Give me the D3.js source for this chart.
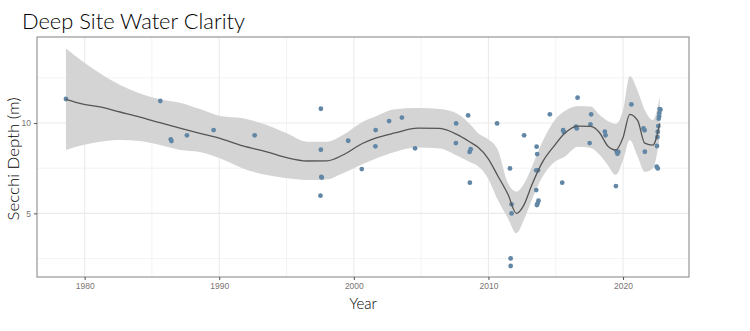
<!DOCTYPE html>
<html>
<head>
<meta charset="utf-8">
<script src="https://cdn.jsdelivr.net/npm/d3@7"></script>
<style>
  html, body { margin: 0; padding: 0; background: #ffffff; }
  svg { display: block; }
</style>
</head>
<body>
<div id="chart"></div>
<script>
// ---- Data ----
const obsYear = [
  1978.61, 1985.62, 1986.40, 1986.45, 1987.60, 1989.58, 1992.63,
  1997.55, 1997.55, 1997.58, 1997.62, 1997.52, 1999.58, 2000.59,
  2001.62, 2001.60, 2002.62, 2003.57, 2004.55, 2007.60, 2007.58,
  2008.49, 2008.60, 2008.68, 2008.62, 2010.64, 2011.60, 2011.72,
  2011.72, 2011.65, 2011.65, 2012.65, 2013.58, 2013.62, 2013.55,
  2013.68, 2013.55, 2013.72, 2013.65, 2013.60, 2014.56, 2015.48,
  2015.55, 2015.60, 2016.50, 2016.56, 2016.62, 2017.63, 2017.58,
  2017.52, 2018.65, 2018.70, 2019.52, 2019.58, 2019.65, 2019.47,
  2020.62, 2021.52, 2021.60, 2021.62, 2022.72, 2022.78, 2022.70,
  2022.68, 2022.65, 2022.62, 2022.58, 2022.55, 2022.52, 2022.50,
  2022.58
];
const obsSecchi = [
  11.33, 11.22, 9.10, 9.00, 9.32, 9.61, 9.32,
  10.79, 8.52, 7.02, 6.98, 5.98, 9.02, 7.45,
  9.61, 8.71, 10.11, 10.30, 8.60, 9.98, 8.89,
  10.42, 8.40, 8.55, 6.70, 9.98, 7.49, 5.50,
  5.00, 2.51, 2.09, 9.32, 8.69, 8.28, 7.38,
  7.38, 6.29, 5.70, 5.55, 5.46, 10.48, 6.70,
  9.60, 9.50, 9.80, 9.70, 11.40, 10.48, 9.93,
  8.89, 9.52, 9.32, 8.43, 8.30, 8.40, 6.51,
  11.03, 9.70, 9.60, 8.41, 10.77, 10.74, 10.55,
  10.37, 10.24, 9.83, 9.52, 9.22, 8.73, 7.58,
  7.49
];

// smoothed trend and its confidence band
const smoothYear = [
  1978.61, 1979.88, 1981.14, 1982.63, 1984.11, 1985.59, 1987.08, 1988.56,
  1990.05, 1991.76, 1993.54, 1995.02, 1996.51, 1998.00, 1999.19, 2000.67,
  2001.56, 2003.04, 2004.75, 2006.39, 2007.72, 2008.62, 2009.21, 2009.95,
  2010.70, 2011.44, 2012.08, 2012.63, 2013.22, 2013.96, 2014.93, 2015.67,
  2016.64, 2017.60, 2018.27, 2018.86, 2019.46, 2020.00, 2020.50, 2021.09,
  2021.61, 2022.21, 2022.73
];
const smoothFit = [
  11.31, 11.05, 10.89, 10.61, 10.33, 10.02, 9.72, 9.43,
  9.15, 8.73, 8.41, 8.08, 7.90, 7.91, 8.23, 8.88,
  9.15, 9.45, 9.72, 9.70, 9.34, 8.95, 8.67, 8.06,
  7.07, 6.07, 5.00, 5.46, 6.57, 7.77, 8.78, 9.43,
  9.83, 9.81, 9.45, 8.73, 8.51, 9.20, 10.48, 10.13,
  8.89, 8.78, 9.98
];
const smoothLo = [
  8.51, 8.78, 8.97, 9.06, 9.00, 8.78, 8.51, 8.40,
  8.05, 7.49, 7.12, 6.94, 6.85, 6.88, 7.22, 7.73,
  8.01, 8.40, 8.64, 8.59, 8.17, 7.84, 7.62, 6.96,
  5.74, 4.74, 3.90, 4.63, 5.74, 6.96, 7.86, 8.14,
  8.69, 8.62, 8.23, 7.68, 7.12, 7.95, 9.06, 8.14,
  7.30, 7.49, 9.24
];
const smoothHi = [
  14.13, 13.39, 12.75, 12.10, 11.64, 11.31, 11.12, 10.77,
  10.39, 10.26, 9.89, 9.43, 8.97, 8.97, 9.34, 10.07,
  10.35, 10.76, 10.83, 10.77, 10.50, 9.94, 9.45, 9.11,
  8.51, 6.68, 6.20, 6.62, 7.57, 8.89, 10.17, 10.66,
  10.94, 10.91, 10.44, 10.11, 9.94, 10.72, 12.60, 11.77,
  10.72, 10.17, 11.46
];

const xMajorTicks = [1980, 1990, 2000, 2010, 2020];
const xMinorTicks = [1985, 1995, 2005, 2015];
const yMajorTicks = [5, 10];
const yMinorTicks = [2.5, 7.5, 12.5];

const titleText = "Deep Site Water Clarity";
const xTitle = "Year";
const yTitle = "Secchi Depth (m)";

// ---- Layout ----
const W = 750, H = 331;
const panel = { left: 37, right: 689, top: 37, bottom: 277 };

const svg = d3.select("#chart").append("svg")
  .attr("width", W).attr("height", H);

svg.append("rect").attr("width", W).attr("height", H).attr("fill", "#ffffff");

const x = d3.scaleLinear().domain([1976.46, 2024.90]).range([panel.left, panel.right]);
const y = d3.scaleLinear().domain([1.48, 14.76]).range([panel.bottom, panel.top]);

// grid
const grid = svg.append("g");
grid.selectAll("line.xmin").data(xMinorTicks).join("line")
  .attr("x1", d => x(d)).attr("x2", d => x(d))
  .attr("y1", panel.top).attr("y2", panel.bottom)
  .attr("stroke", "#f0f0f0").attr("stroke-width", 0.8);
grid.selectAll("line.ymin").data(yMinorTicks).join("line")
  .attr("y1", d => y(d)).attr("y2", d => y(d))
  .attr("x1", panel.left).attr("x2", panel.right)
  .attr("stroke", "#f0f0f0").attr("stroke-width", 0.8);
grid.selectAll("line.xmaj").data(xMajorTicks).join("line")
  .attr("x1", d => x(d)).attr("x2", d => x(d))
  .attr("y1", panel.top).attr("y2", panel.bottom)
  .attr("stroke", "#ebebeb").attr("stroke-width", 1.1);
grid.selectAll("line.ymaj").data(yMajorTicks).join("line")
  .attr("y1", d => y(d)).attr("y2", d => y(d))
  .attr("x1", panel.left).attr("x2", panel.right)
  .attr("stroke", "#ebebeb").attr("stroke-width", 1.1);

// ribbon
const band = smoothYear.map((yr, i) => ({ yr, lo: smoothLo[i], hi: smoothHi[i], fit: smoothFit[i] }));
svg.append("path").datum(band)
  .attr("fill", "#d4d4d4")
  .attr("d", d3.area().x(d => x(d.yr)).y0(d => y(d.lo)).y1(d => y(d.hi)).curve(d3.curveMonotoneX));

// points
const pts = obsYear.map((yr, i) => ({ yr, v: obsSecchi[i] }));
svg.append("g").selectAll("circle").data(pts).join("circle")
  .attr("cx", d => x(d.yr)).attr("cy", d => y(d.v))
  .attr("r", 2.4)
  .attr("fill", "#6287a6");

// fit line
svg.append("path").datum(band)
  .attr("fill", "none")
  .attr("stroke", "#555555")
  .attr("stroke-width", 1.3)
  .attr("d", d3.line().x(d => x(d.yr)).y(d => y(d.fit)).curve(d3.curveMonotoneX));

// panel border
svg.append("rect")
  .attr("x", panel.left).attr("y", panel.top)
  .attr("width", panel.right - panel.left).attr("height", panel.bottom - panel.top)
  .attr("fill", "none").attr("stroke", "#8c8c8c").attr("stroke-width", 1.1);

// axes
const xAxis = svg.append("g")
  .attr("transform", `translate(0,${panel.bottom})`)
  .call(d3.axisBottom(x).tickValues(xMajorTicks).tickFormat(d3.format("d")).tickSize(3).tickPadding(3));
const yAxis = svg.append("g")
  .attr("transform", `translate(${panel.left},0)`)
  .call(d3.axisLeft(y).tickValues(yMajorTicks).tickFormat(d3.format("d")).tickSize(3).tickPadding(3));
[xAxis, yAxis].forEach(a => {
  a.select(".domain").remove();
  a.selectAll(".tick line").attr("stroke", "#555");
  a.selectAll(".tick text")
    .attr("fill", "#7a7474")
    .style("font-family", "'Liberation Sans', Arial, sans-serif")
    .style("font-size", "8.5px");
});

// titles
svg.append("text")
  .attr("x", 22).attr("y", 29)
  .attr("textLength", 223).attr("lengthAdjust", "spacingAndGlyphs")
  .style("font-family", "Lato, 'Open Sans', sans-serif")
  .style("font-weight", 300)
  .style("font-size", "22px")
  .attr("fill", "#000")
  .text(titleText);

svg.append("text")
  .attr("x", (panel.left + panel.right) / 2).attr("y", 309)
  .attr("text-anchor", "middle")
  .style("font-family", "Lato, 'Open Sans', sans-serif")
  .style("font-weight", 300)
  .style("font-size", "15px")
  .attr("fill", "#000")
  .text(xTitle);

svg.append("text")
  .attr("transform", `translate(19,${(panel.top + panel.bottom) / 2 + 2}) rotate(-90)`)
  .attr("text-anchor", "middle")
  .attr("textLength", 123).attr("lengthAdjust", "spacingAndGlyphs")
  .style("font-family", "Lato, 'Open Sans', sans-serif")
  .style("font-weight", 300)
  .style("font-size", "15px")
  .attr("fill", "#000")
  .text(yTitle);
</script>
</body>
</html>
